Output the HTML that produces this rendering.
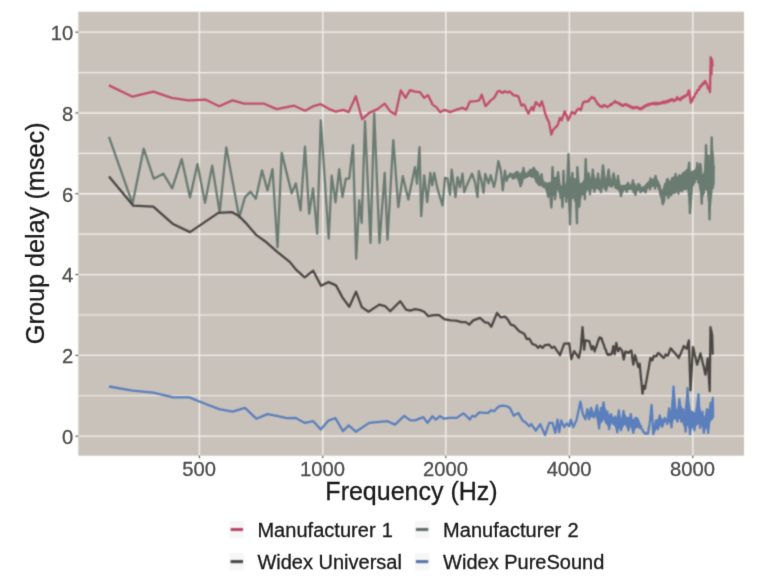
<!DOCTYPE html>
<html><head><meta charset="utf-8"><title>Group delay</title>
<style>html,body{margin:0;padding:0;background:#fff;}body{width:768px;height:576px;overflow:hidden;}svg{display:block;}text{font-family:"Liberation Sans",sans-serif;}</style>
</head><body>
<svg width="768" height="576" viewBox="0 0 768 576">
<defs><filter id="soft" x="0" y="0" width="768" height="576" filterUnits="userSpaceOnUse" color-interpolation-filters="sRGB"><feConvolveMatrix order="3" kernelMatrix="1 2 1 2 8 2 1 2 1" divisor="20" edgeMode="duplicate" preserveAlpha="true"/></filter><filter id="softt" x="0" y="0" width="768" height="576" filterUnits="userSpaceOnUse" color-interpolation-filters="sRGB"><feConvolveMatrix order="3" kernelMatrix="0 1 0 1 7 1 0 1 0" divisor="11" edgeMode="duplicate" preserveAlpha="false"/></filter></defs>
<g filter="url(#soft)">
<rect x="0" y="0" width="768" height="576" fill="#ffffff"/>
<rect x="78.3" y="11.7" width="665.7" height="444.0" fill="#c9c2bb"/>
<g stroke="#f3efeb" fill="none">
<line x1="78.3" x2="744.0" y1="436.15" y2="436.15" stroke-width="1.35"/>
<line x1="78.3" x2="744.0" y1="395.75" y2="395.75" stroke-width="1.15"/>
<line x1="78.3" x2="744.0" y1="355.35" y2="355.35" stroke-width="1.35"/>
<line x1="78.3" x2="744.0" y1="314.95" y2="314.95" stroke-width="1.15"/>
<line x1="78.3" x2="744.0" y1="274.55" y2="274.55" stroke-width="1.35"/>
<line x1="78.3" x2="744.0" y1="234.15" y2="234.15" stroke-width="1.15"/>
<line x1="78.3" x2="744.0" y1="193.75" y2="193.75" stroke-width="1.35"/>
<line x1="78.3" x2="744.0" y1="153.35" y2="153.35" stroke-width="1.15"/>
<line x1="78.3" x2="744.0" y1="112.95" y2="112.95" stroke-width="1.35"/>
<line x1="78.3" x2="744.0" y1="72.55" y2="72.55" stroke-width="1.15"/>
<line x1="78.3" x2="744.0" y1="32.15" y2="32.15" stroke-width="1.35"/>
<line x1="199.40" x2="199.40" y1="11.7" y2="455.7" stroke-width="1.35"/>
<line x1="322.80" x2="322.80" y1="11.7" y2="455.7" stroke-width="1.35"/>
<line x1="445.80" x2="445.80" y1="11.7" y2="455.7" stroke-width="1.35"/>
<line x1="569.40" x2="569.40" y1="11.7" y2="455.7" stroke-width="1.35"/>
<line x1="692.80" x2="692.80" y1="11.7" y2="455.7" stroke-width="1.35"/>
</g>
<g fill="none" stroke-width="2.30" stroke-linejoin="round" stroke-linecap="butt" transform="translate(0,0.40)">
<path stroke="#c24d68" d="M109.0 85.0 L132.5 96.3 L153.3 91.3 L171.7 97.5 L188.3 100.0 L205.8 99.3 L219.2 105.8 L232.5 100.0 L244.2 103.3 L264.2 103.3 L276.7 108.7 L294.2 105.3 L305.0 110.3 L313.3 105.8 L320.8 103.8 L329.2 108.7 L335.8 111.2 L343.3 109.5 L348.7 111.7 L355.8 95.8 L362.2 118.8 L369.2 112.5 L377.5 108.7 L384.7 103.3 L390.0 110.8 L395.5 114.2 L400.8 90.0 L405.5 97.5 L410.0 89.7 L415.0 91.3 L420.0 91.7 L424.2 97.5 L428.0 94.7 L432.5 104.2 L436.3 106.7 L440.0 111.7 L444.7 109.5 L450.0 111.7 L456.7 109.2 L462.5 107.5 L466.3 109.2 L469.7 101.3 L475.8 100.8 L479.2 100.0 L481.7 94.2 L485.5 105.8 L490.8 100.0 L494.2 97.5 L497.5 91.3 L500.0 90.5 L501.1 91.9 L502.3 92.0 L502.5 92.5 L503.4 92.2 L504.6 90.8 L505.0 90.8 L505.7 91.5 L506.9 91.5 L507.5 92.0 L508.0 92.1 L509.2 91.2 L510.0 91.3 L510.3 91.9 L511.5 92.5 L512.6 94.2 L513.3 94.7 L513.8 94.6 L514.9 95.3 L516.1 95.0 L517.2 95.8 L518.3 95.8 L518.4 95.9 L519.5 99.8 L520.7 102.9 L521.3 105.0 L521.8 105.2 L523.0 104.2 L524.1 104.4 L524.2 104.2 L525.3 106.3 L526.4 109.4 L527.6 111.5 L528.3 113.3 L528.7 112.6 L529.9 110.0 L531.0 108.3 L531.7 106.7 L532.2 107.5 L533.3 110.0 L533.3 110.0 L534.5 105.7 L535.6 102.5 L535.8 101.7 L536.8 102.5 L537.9 104.3 L539.1 104.9 L539.7 105.8 L540.2 104.9 L541.4 101.9 L542.0 100.8 L542.5 103.2 L543.7 106.9 L544.8 111.8 L545.8 115.0 L546.0 115.1 L547.1 118.2 L548.3 120.3 L549.2 122.5 L549.4 124.1 L550.6 130.1 L551.3 134.2 L551.7 133.3 L552.9 130.0 L553.3 129.2 L554.0 128.7 L555.2 127.1 L556.3 126.4 L557.5 124.8 L557.5 125.0 L558.6 121.8 L559.8 117.8 L560.0 117.5 L560.9 119.2 L561.7 120.0 L562.1 118.5 L563.2 115.5 L564.4 111.4 L564.7 110.8 L565.5 113.2 L566.7 115.5 L567.8 119.1 L568.3 120.0 L569.0 117.9 L570.1 115.9 L571.3 112.5 L571.7 111.7 L572.4 112.4 L573.6 112.3 L574.7 113.5 L575.0 113.3 L575.9 111.4 L577.0 109.7 L577.2 109.2 L578.2 108.5 L579.2 108.3 L579.3 108.9 L580.5 109.2 L580.8 109.7 L581.6 107.4 L582.8 102.8 L583.3 101.7 L583.9 102.1 L585.1 101.0 L586.2 101.5 L587.4 100.6 L588.3 100.8 L588.5 101.0 L589.7 98.7 L590.8 98.0 L591.3 97.0 L592.0 96.6 L593.1 97.8 L594.2 97.5 L594.3 97.4 L595.4 100.3 L596.6 101.4 L597.5 103.3 L597.7 103.9 L598.9 104.0 L600.0 105.9 L601.2 105.9 L601.7 106.7 L602.3 106.8 L603.5 104.8 L604.2 104.7 L604.6 105.4 L605.8 105.3 L606.9 106.7 L607.5 106.7 L608.1 105.9 L609.2 105.8 L610.4 103.9 L610.8 104.2 L611.5 104.4 L612.7 102.5 L613.8 102.5 L615.0 100.6 L615.0 101.3 L616.1 102.3 L617.3 101.7 L618.4 103.1 L619.2 103.0 L619.6 102.7 L620.7 104.7 L621.9 104.3 L622.5 105.3 L623.0 105.6 L624.2 104.1 L625.3 104.6 L625.8 103.7 L626.5 103.7 L627.6 105.4 L628.8 104.8 L629.9 106.7 L630.0 106.3 L631.1 106.0 L632.2 107.9 L633.3 107.5 L633.4 106.8 L634.5 107.9 L635.7 106.5 L636.7 106.7 L636.8 107.4 L638.0 106.9 L639.1 108.7 L640.3 107.9 L640.8 108.7 L641.4 108.9 L642.6 106.6 L643.7 107.4 L644.2 106.3 L644.9 105.1 L646.0 106.0 L647.2 104.1 L648.3 104.2 L648.3 105.0 L649.5 103.2 L650.6 104.2 L651.8 102.7 L652.9 103.6 L653.3 103.0 L654.1 102.4 L655.2 104.1 L656.4 102.3 L657.5 104.0 L658.3 103.3 L658.7 102.5 L659.8 103.5 L661.0 102.1 L662.1 102.9 L663.3 101.1 L663.3 102.0 L664.4 102.7 L665.6 100.8 L666.7 102.1 L667.9 100.0 L668.3 100.8 L669.0 101.3 L670.2 99.0 L671.3 100.3 L671.7 99.2 L672.5 98.7 L673.6 100.8 L674.8 99.5 L675.0 100.3 L675.9 99.5 L676.7 97.5 L677.1 96.7 L678.2 99.2 L679.4 98.2 L680.0 99.2 L680.5 99.8 L681.7 96.8 L682.8 97.6 L683.3 96.3 L684.0 95.5 L685.1 96.4 L686.3 94.5 L686.7 95.0 L687.4 94.4 L688.6 90.4 L689.2 90.0 L689.7 95.3 L690.8 102.5 L690.9 101.4 L692.0 101.0 L693.2 97.0 L693.3 97.5 L694.3 96.6 L695.5 92.8 L696.6 92.8 L696.7 91.7 L697.8 89.4 L698.9 89.5 L700.1 85.8 L700.8 85.8 L701.2 86.2 L702.4 83.0 L703.5 84.0 L704.7 80.8 L705.5 80.8 L705.8 82.5 L707.0 83.8 L708.1 88.2 L709.3 88.9 L710.0 91.7 L710.4 70.0 L710.7 56.7 L711.4 74.0 L711.6 68.1 L712.0 59.0 L712.6 66.0"/>
<path stroke="#6a7b72" d="M109.0 136.5 L132.5 203.3 L143.7 148.3 L153.7 178.3 L163.3 173.3 L172.2 188.0 L181.7 158.7 L190.0 197.0 L197.5 163.7 L205.0 202.5 L212.2 165.3 L219.7 212.0 L226.3 147.0 L239.2 217.0 L245.0 196.7 L250.5 191.2 L255.8 198.3 L262.0 170.0 L267.5 190.0 L272.5 168.7 L277.5 246.7 L281.7 152.5 L291.7 193.0 L295.8 183.0 L300.5 210.0 L305.0 146.3 L309.2 213.3 L313.0 188.0 L317.2 233.3 L320.8 120.0 L328.7 238.3 L331.7 175.3 L335.5 202.0 L339.2 168.7 L342.5 196.7 L345.8 178.3 L349.2 178.3 L353.0 144.7 L356.2 258.3 L359.2 200.0 L361.7 222.5 L365.0 120.8 L370.5 242.5 L374.2 113.0 L379.5 242.5 L384.7 172.5 L387.5 239.2 L393.3 139.7 L398.3 206.7 L402.8 175.8 L408.3 199.2 L415.0 166.7 L417.0 183.3 L419.5 146.7 L421.2 215.8 L424.2 175.0 L427.2 201.7 L430.3 172.5 L432.2 185.0 L434.2 172.5 L437.5 188.3 L442.5 205.0 L445.0 177.5 L447.5 178.3 L450.0 194.2 L451.7 169.2 L455.5 196.7 L457.5 176.7 L460.0 186.7 L462.5 173.3 L464.2 191.7 L467.5 183.3 L472.0 173.3 L475.0 181.7 L477.5 196.7 L478.8 170.8 L481.7 181.7 L483.6 192.3 L485.2 173.4 L488.5 183.0 L490.7 174.8 L494.0 186.5 L495.6 179.5 L498.4 160.8 L500.6 169.5 L501.5 176.0 L502.8 189.9 L504.9 170.2 L506.6 180.6 L507.5 177.5"/>
<path stroke="#6a7b72" fill="#6a7b72" stroke-width="1.6" d="M507.5 176.5 L510.0 173.4 L513.1 173.8 L516.9 172.6 L520.6 174.2 L523.5 169.0 L526.3 174.6 L530.0 169.6 L533.8 168.8 L537.5 171.4 L540.0 178.6 L541.5 175.3 L543.0 181.9 L545.0 183.1 L548.1 183.7 L549.8 182.2 L551.3 184.0 L552.5 170.5 L552.8 172.7 L553.8 181.3 L555.0 180.3 L556.5 182.4 L556.8 180.7 L558.1 174.3 L559.5 183.8 L560.6 185.5 L561.5 186.4 L562.5 190.0 L563.5 174.0 L563.8 176.3 L564.8 185.8 L566.3 186.0 L567.5 181.3 L567.8 174.4 L568.5 160.2 L569.6 182.5 L570.0 184.1 L571.3 183.0 L572.5 175.8 L573.8 182.7 L575.0 181.5 L576.0 182.6 L576.2 183.7 L577.0 177.5 L577.3 173.2 L578.2 180.0 L578.6 184.5 L579.3 185.4 L581.8 184.0 L584.5 179.9 L584.9 174.6 L585.7 163.6 L587.2 178.1 L587.4 177.6 L588.6 175.5 L589.9 179.9 L590.5 181.5 L591.8 175.7 L592.8 171.9 L594.3 177.3 L595.5 181.3 L596.8 178.0 L598.0 175.3 L600.5 184.7 L601.0 181.5 L603.0 167.9 L606.1 183.5 L608.6 171.5 L609.3 174.9 L611.1 184.0 L611.8 181.5 L613.6 174.7 L614.3 177.7 L615.5 183.2 L616.8 180.4 L618.0 177.5 L619.3 182.3 L620.5 187.2 L621.0 187.3 L624.3 185.5 L626.8 184.3 L628.0 183.5 L630.5 186.4 L633.0 181.4 L635.5 187.3 L638.0 184.8 L638.6 184.5 L640.5 186.7 L641.8 188.0 L643.0 186.9 L645.5 185.2 L646.0 184.6 L648.0 183.0 L650.0 180.3 L650.5 179.4 L653.0 179.5 L655.0 177.8 L655.5 177.2 L658.0 181.4 L659.3 184.7 L660.0 186.8 L661.8 192.0 L662.8 190.1 L664.3 186.2 L665.5 183.2 L667.8 181.1 L668.3 181.4 L670.0 181.8 L671.0 179.9 L672.2 177.8 L673.9 176.9 L675.6 176.2 L679.0 177.6 L682.6 173.6 L684.3 173.1 L686.0 172.7 L687.8 168.8 L689.2 167.8 L689.9 171.0 L691.3 173.6 L692.1 172.7 L694.7 172.5 L696.5 167.1 L697.3 165.1 L698.8 170.2 L699.0 169.7 L700.3 167.4 L701.7 174.6 L702.5 177.6 L704.3 174.3 L704.5 173.9 L706.0 150.4 L706.9 159.3 L707.4 165.2 L708.6 162.0 L709.5 168.9 L710.2 172.2 L711.7 145.0 L712.1 147.8 L713.2 156.2 L713.8 167.0 L713.8 184.5 L713.2 185.0 L712.1 187.5 L711.7 190.3 L710.2 206.3 L709.5 211.3 L708.6 200.6 L707.4 188.1 L706.9 181.8 L706.0 182.6 L704.5 189.5 L704.3 190.0 L702.5 196.7 L701.7 198.9 L700.3 189.4 L699.0 182.0 L698.8 181.7 L697.3 178.5 L696.5 177.5 L694.7 181.8 L692.1 186.8 L691.3 194.2 L689.9 206.5 L689.2 199.5 L687.8 186.7 L686.0 187.8 L684.3 188.4 L682.6 189.1 L679.0 190.9 L675.6 191.3 L673.9 191.7 L672.2 192.3 L671.0 193.0 L670.0 194.0 L668.3 195.2 L667.8 194.9 L665.5 194.3 L664.3 197.6 L662.8 201.8 L661.8 199.2 L660.0 193.4 L659.3 190.1 L658.0 184.3 L655.5 186.1 L655.0 186.6 L653.0 184.3 L650.5 186.9 L650.0 187.5 L648.0 185.8 L646.0 189.9 L645.5 190.9 L643.0 189.6 L641.8 190.5 L640.5 191.1 L638.6 188.8 L638.0 188.2 L635.5 193.3 L633.0 189.6 L630.5 187.4 L628.0 189.1 L626.8 190.3 L624.3 188.3 L621.0 194.4 L620.5 193.0 L619.3 188.9 L618.0 188.2 L616.8 188.6 L615.5 186.9 L614.3 184.0 L613.6 183.8 L611.8 185.6 L611.1 185.7 L609.3 183.6 L608.6 184.0 L606.1 189.1 L603.0 184.7 L601.0 190.3 L600.5 190.4 L598.0 187.5 L596.8 187.2 L595.5 188.8 L594.3 189.2 L592.8 186.5 L591.8 185.8 L590.5 190.3 L589.9 191.7 L588.6 189.4 L587.4 188.2 L587.2 188.9 L585.7 191.2 L584.9 195.2 L584.5 195.4 L581.8 192.3 L579.3 203.2 L578.6 197.9 L578.2 194.3 L577.3 209.9 L577.0 216.0 L576.2 197.9 L576.0 193.0 L575.0 197.3 L573.8 191.3 L572.5 194.3 L571.3 193.0 L570.0 217.9 L569.6 213.0 L568.5 196.9 L567.8 190.9 L567.5 193.2 L566.3 199.0 L564.8 195.2 L563.8 191.2 L563.5 193.4 L562.5 204.4 L561.5 191.9 L560.6 195.8 L559.5 193.0 L558.1 188.2 L556.8 187.6 L556.5 189.3 L555.0 196.0 L553.8 193.4 L552.8 189.8 L552.5 191.9 L551.3 203.5 L549.8 187.8 L548.1 194.4 L545.0 186.3 L543.0 185.9 L541.5 184.7 L540.0 185.2 L537.5 183.0 L533.8 176.3 L530.0 174.8 L526.3 176.6 L523.5 177.3 L520.6 184.0 L516.9 176.8 L513.1 177.5 L510.0 174.8 L507.5 178.5 Z"/>
<path stroke="#6a7b72" stroke-width="2.4" d="M507.5 176.3 L508.9 176.5 L510.2 173.3 L511.6 176.2 L513.1 178.2 L514.2 177.3 L515.5 172.4 L516.9 171.8 L518.1 172.1 L519.4 181.1 L520.6 185.7 L521.9 181.8 L523.5 167.5 L524.4 177.7 L525.7 173.8 L526.9 176.4 L528.1 172.4 L529.3 175.3 L530.5 169.6 L531.7 176.3 L532.9 169.1 L533.8 167.5 L535.3 170.6 L536.4 181.3 L537.6 172.1 L538.7 183.9 L539.9 177.3 L541.0 184.4 L541.5 173.7 L542.1 178.2 L543.3 186.3 L544.4 182.1 L545.5 187.2 L546.6 183.1 L548.1 196.3 L548.8 183.4 L549.8 187.8 L551.3 206.9 L552.0 196.1 L552.5 166.8 L553.0 176.4 L554.1 194.8 L555.0 177.5 L555.0 198.8 L556.2 190.1 L557.2 178.1 L558.1 171.8 L559.3 183.3 L560.6 197.6 L561.3 186.8 L562.5 206.9 L563.5 170.6 L564.3 195.0 L565.3 184.5 L566.3 201.3 L567.3 180.9 L568.5 153.7 L569.2 178.2 L570.0 223.8 L571.1 182.5 L572.5 172.5 L572.5 197.6 L573.0 178.7 L574.0 193.0 L575.0 178.7 L575.0 200.1 L575.8 194.0 L577.0 222.8 L577.3 166.8 L578.6 183.7 L579.3 206.3 L580.4 183.8 L581.3 194.4 L582.2 183.3 L583.1 192.8 L584.0 181.0 L584.9 198.8 L585.7 158.7 L586.7 188.0 L587.6 178.1 L588.6 173.1 L589.4 179.8 L589.9 193.8 L591.2 178.5 L592.1 187.5 L592.8 169.3 L594.3 191.3 L594.8 179.9 L595.7 187.6 L596.6 179.3 L597.5 187.5 L598.0 173.1 L599.3 188.7 L600.2 183.0 L601.0 191.8 L602.0 175.4 L603.0 165.0 L603.8 172.0 L604.7 188.1 L605.6 180.0 L606.1 190.1 L607.4 177.8 L608.6 169.3 L609.2 175.6 L610.1 185.4 L611.0 183.8 L611.8 186.3 L612.8 177.2 L613.6 173.1 L614.6 178.5 L615.5 187.2 L616.4 181.5 L617.3 187.7 L618.0 175.6 L619.1 190.0 L620.0 185.3 L621.0 195.7 L621.8 185.9 L622.7 191.0 L623.6 185.6 L624.5 188.2 L625.4 185.5 L626.3 190.0 L626.8 191.3 L628.0 182.5 L629.0 185.1 L629.9 188.0 L630.8 185.4 L631.7 188.5 L633.0 180.0 L633.5 191.7 L634.4 184.0 L635.5 194.4 L636.2 186.2 L637.1 190.0 L638.0 184.3 L638.6 183.7 L639.8 185.2 L640.5 191.9 L641.6 188.0 L642.5 190.2 L643.4 186.9 L644.3 189.9 L645.5 191.9 L646.1 189.9 L647.0 183.6 L647.9 186.0 L648.8 181.9 L650.0 188.8 L650.5 178.1 L651.5 185.8 L652.4 179.5 L653.3 184.6 L654.2 179.2 L655.0 188.2 L655.5 175.6 L656.0 177.9 L656.9 185.3 L657.8 181.3 L658.7 188.1 L659.6 185.2 L660.5 194.3 L661.4 190.8 L662.3 200.7 L662.8 203.8 L664.1 200.1 L665.0 183.8 L665.9 194.5 L666.8 179.8 L667.8 178.7 L668.3 197.6 L669.5 194.2 L670.4 181.2 L671.3 194.9 L672.2 177.9 L673.1 192.5 L674.0 177.3 L674.9 192.5 L675.6 173.5 L676.7 190.7 L677.6 177.6 L678.5 193.3 L679.4 174.9 L680.3 189.9 L681.2 176.7 L682.1 190.9 L683.0 172.9 L683.9 188.6 L684.8 171.8 L685.7 188.9 L686.6 170.0 L687.5 188.0 L688.4 168.3 L689.2 162.2 L689.9 212.7 L691.1 197.6 L692.0 171.8 L692.9 184.5 L693.8 170.8 L694.7 181.7 L695.6 170.1 L696.5 178.4 L697.3 162.7 L698.3 182.0 L699.2 170.2 L700.3 163.5 L701.0 168.8 L701.7 203.2 L702.8 174.8 L703.7 192.9 L704.6 172.4 L705.5 188.7 L706.0 144.8 L707.3 189.1 L708.6 155.2 L709.5 218.8 L710.0 168.6 L710.9 195.6 L711.7 137.0 L712.7 187.6 L713.6 165.6"/>
<path stroke="#4a4743" d="M109.0 176.0 L133.3 205.3 L153.3 206.3 L172.5 223.3 L190.0 231.7 L218.3 212.5 L231.7 211.7 L239.2 215.8 L245.0 221.7 L255.8 234.2 L265.0 240.8 L277.5 251.7 L290.0 261.7 L296.0 269.2 L304.7 277.0 L313.2 270.3 L321.0 285.3 L328.5 281.7 L336.0 285.0 L342.7 297.5 L349.3 306.3 L356.0 291.3 L361.8 306.7 L368.5 311.3 L379.3 304.2 L385.2 305.8 L390.2 310.8 L400.2 300.8 L406.0 309.2 L410.2 310.3 L415.2 308.7 L420.2 309.7 L424.2 311.3 L428.3 315.8 L433.3 314.7 L439.2 314.7 L444.2 318.7 L450.8 320.0 L455.8 320.3 L461.7 321.7 L465.8 321.7 L469.2 324.2 L473.3 320.0 L480.0 317.5 L485.0 322.0 L488.3 322.5 L491.3 326.3 L497.0 312.5 L500.8 317.0 L505.0 316.3 L507.5 318.7 L510.8 324.2 L514.2 325.3 L519.2 330.8 L524.2 333.3 L526.7 338.7 L529.2 338.3 L532.5 343.8 L535.8 344.7 L538.0 347.5 L540.0 345.3 L542.5 347.5 L545.0 344.7 L549.2 344.2 L551.7 347.5 L554.2 346.3 L560.0 354.7 L564.2 343.3 L569.2 343.0 L571.3 358.7 L574.2 350.8 L578.8 357.5 L580.8 348.3 L582.5 326.7 L584.2 349.2 L585.3 340.0 L589.2 340.8 L591.7 348.9 L592.7 346.9 L593.0 345.8 L593.7 347.4 L594.7 351.1 L594.7 350.8 L595.7 347.6 L596.7 345.4 L596.7 345.0 L597.7 341.7 L598.7 339.3 L599.2 337.5 L599.7 337.1 L600.7 337.9 L601.3 337.5 L601.7 338.4 L602.7 341.8 L603.7 344.1 L604.2 345.8 L604.7 347.5 L605.7 349.2 L606.7 352.4 L607.5 354.2 L607.7 353.7 L608.7 354.5 L609.7 353.6 L610.7 354.2 L611.7 353.4 L611.7 353.7 L612.7 349.0 L613.3 345.8 L613.7 347.7 L614.7 353.9 L614.7 353.7 L615.7 346.4 L616.3 342.5 L616.7 344.7 L617.7 349.1 L618.0 350.8 L618.7 350.0 L619.7 347.7 L620.0 347.5 L620.7 349.0 L621.7 349.7 L622.2 350.8 L622.7 354.0 L623.7 358.9 L623.7 359.2 L624.7 354.6 L625.3 351.3 L625.7 351.1 L626.7 352.1 L627.7 351.8 L628.3 352.5 L628.7 352.6 L629.7 350.9 L630.7 350.9 L631.3 350.0 L631.7 352.5 L632.7 360.2 L633.3 364.2 L633.7 361.7 L634.7 356.6 L635.0 354.7 L635.7 356.8 L636.7 361.2 L637.7 364.1 L638.3 366.7 L638.7 366.2 L639.7 363.3 L639.7 363.7 L640.7 374.7 L641.7 384.6 L642.5 393.3 L642.7 392.3 L643.7 385.4 L643.7 385.8 L644.7 388.1 L645.0 388.3 L645.7 383.9 L646.7 379.0 L647.5 374.2 L647.7 372.8 L648.7 367.9 L649.7 361.6 L650.5 357.5 L650.7 358.1 L651.7 359.0 L652.2 360.0 L652.7 359.0 L653.7 355.6 L653.8 355.8 L654.7 356.2 L655.7 355.5 L656.3 355.8 L656.7 355.4 L657.7 353.2 L658.3 352.5 L658.7 353.1 L659.7 353.4 L660.7 355.0 L661.3 355.3 L661.7 355.3 L662.7 356.9 L663.7 357.1 L663.8 357.5 L664.7 356.1 L665.5 354.2 L665.7 354.0 L666.7 355.0 L667.7 354.7 L668.0 355.0 L668.7 353.4 L669.7 350.0 L670.5 348.0 L670.7 348.5 L671.7 348.8 L672.7 350.7 L673.7 351.1 L674.7 352.9 L675.5 353.3 L675.7 353.3 L676.7 355.1 L677.7 355.7 L678.7 357.7 L678.8 357.5 L679.7 355.1 L680.7 353.5 L681.7 350.4 L682.7 348.7 L683.7 345.6 L683.8 345.8 L684.7 346.9 L685.7 347.1 L686.7 348.5 L686.7 348.3 L687.7 344.1 L688.7 340.8 L688.8 340.0 L689.7 366.2 L690.5 390.0 L690.7 386.9 L691.7 368.9 L692.7 352.2 L693.0 346.7 L693.7 349.2 L694.7 354.1 L695.7 357.6 L696.7 362.5 L697.2 364.2 L697.7 362.2 L698.7 359.4 L699.7 355.3 L700.5 353.0 L700.7 354.3 L701.7 357.8 L702.7 362.6 L703.7 366.2 L704.7 371.2 L705.5 374.2 L705.7 372.5 L706.7 366.0 L707.7 357.9 L707.7 358.3 L708.7 374.9 L709.7 390.5 L709.7 390.8 L710.5 326.7 L710.7 327.9 L711.7 332.3 L712.2 335.0 L712.7 354.2"/>
<path stroke="#5a7fbc" d="M109.0 386.1 L132.5 390.3 L153.3 392.2 L173.3 397.0 L189.2 397.0 L205.0 403.3 L219.2 408.7 L232.5 411.3 L245.0 407.5 L256.3 418.3 L267.5 413.7 L276.7 415.5 L286.7 417.8 L295.8 417.5 L305.0 422.5 L313.3 420.8 L320.8 429.2 L328.3 420.3 L335.5 417.8 L343.0 430.8 L348.7 425.0 L355.8 431.3 L369.2 422.5 L387.5 420.8 L395.0 424.2 L404.2 415.5 L410.0 419.7 L415.0 420.0 L423.3 416.7 L427.5 422.5 L432.5 415.8 L435.8 419.2 L440.0 415.8 L444.2 418.3 L449.2 417.5 L456.7 417.5 L463.3 413.0 L466.7 415.8 L469.7 419.2 L472.5 415.3 L475.0 416.3 L479.2 412.0 L484.2 412.5 L488.3 412.5 L490.8 410.0 L494.2 410.8 L498.3 406.3 L502.5 405.3 L506.7 405.8 L510.0 407.5 L513.7 415.3 L518.3 412.5 L522.5 420.0 L525.8 422.0 L529.2 425.8 L531.3 423.7 L535.8 430.3 L540.3 423.7 L545.0 434.7 L549.2 422.5 L552.5 422.5 L555.3 432.5 L557.5 419.2 L559.2 431.7 L561.2 420.0 L564.2 426.7 L566.7 423.0 L569.2 425.8 L570.8 419.2 L573.3 426.7 L576.7 419.2 L580.4 401.3 L582.9 413.8 L585.4 418.8 L587.3 408.8 L589.1 418.8 L591.0 407.5 L594.1 416.9 L597.0 405.0 L599.1 428.1 L601.0 407.5 L601.6 421.3 L603.5 401.9 L606.0 422.5 L607.3 411.3 L609.1 428.8 L611.0 413.8 L613.5 423.8 L614.8 416.3 L617.3 431.9 L618.8 410.0 L621.0 430.0 L623.5 410.6 L625.4 423.8 L627.3 417.5 L628.3 430.0 L630.8 413.8 L633.3 432.5 L635.4 417.5 L637.3 418.1 L641.0 427.5 L644.8 433.1 L647.9 433.1 L649.8 422.5 L651.6 404.4 L653.3 433.8 L656.0 420.0 L657.9 428.8 L659.8 415.0 L662.3 426.3 L664.8 417.5 L667.3 423.8 L669.1 408.1 L671.5 427.0 L673.5 386.3 L675.6 416.3 L677.5 421.3 L679.4 398.8 L681.3 421.3 L683.1 408.8 L685.6 431.3 L687.5 387.5 L690.0 433.8 L692.5 411.3 L694.4 430.0 L696.5 411.0 L698.5 393.8 L700.0 427.5 L702.5 411.3 L703.8 432.5 L706.9 408.8 L708.1 432.5 L710.6 402.5 L711.9 418.8 L712.8 397.5 L713.0 417.5"/>
<path stroke="#5a7fbc" fill="#5a7fbc" stroke-width="1.4" d="M590.0 410.0 L591.7 409.3 L593.8 417.0 L595.8 410.8 L597.1 407.4 L598.8 412.9 L599.2 414.1 L601.7 407.9 L603.3 404.6 L605.0 408.4 L606.7 412.4 L608.8 414.6 L610.0 415.4 L611.7 416.5 L612.5 417.3 L614.2 419.9 L615.0 421.3 L617.5 415.7 L618.8 412.3 L620.4 419.8 L620.8 421.6 L622.0 418.1 L623.8 412.6 L625.0 414.8 L626.7 418.6 L628.3 418.0 L630.4 416.4 L630.8 416.9 L632.5 419.7 L632.9 419.7 L635.0 418.9 L636.7 420.1 L638.3 421.6 L640.0 424.2 L641.7 426.1 L641.7 426.1 L640.0 427.7 L638.3 427.0 L636.7 426.5 L635.0 428.1 L632.9 430.3 L632.5 429.4 L630.8 425.3 L630.4 425.7 L628.3 428.4 L626.7 426.0 L625.0 422.8 L623.8 424.3 L622.0 427.6 L620.8 427.6 L620.4 427.1 L618.8 427.7 L617.5 429.4 L615.0 425.3 L614.2 423.5 L612.5 422.2 L611.7 421.7 L610.0 424.4 L608.8 426.4 L606.7 423.0 L605.0 419.8 L603.3 418.6 L601.7 418.4 L599.2 424.7 L598.8 425.5 L597.1 418.3 L595.8 413.6 L593.8 417.0 L591.7 416.0 L590.0 416.5 Z"/>
<path stroke="#5a7fbc" fill="#5a7fbc" stroke-width="1.4" d="M654.0 427.7 L656.6 421.6 L659.2 417.0 L659.7 416.0 L662.3 420.0 L664.4 418.1 L665.5 419.6 L667.0 421.5 L668.0 416.1 L669.1 410.0 L671.2 412.2 L672.2 402.2 L673.3 390.8 L674.8 403.4 L675.4 408.7 L677.4 409.7 L679.0 404.5 L679.8 401.9 L682.1 410.6 L684.7 414.5 L685.3 409.8 L687.3 393.2 L689.4 405.6 L689.9 408.0 L691.0 412.9 L692.5 412.9 L693.4 413.0 L695.1 412.6 L695.7 412.5 L698.3 398.5 L698.8 401.8 L700.4 412.1 L700.9 412.4 L702.4 414.3 L704.0 416.5 L705.0 417.4 L706.1 414.3 L707.1 411.8 L708.2 410.4 L709.7 407.6 L710.8 404.3 L712.1 400.8 L712.9 405.4 L713.4 408.4 L713.4 415.6 L712.9 415.7 L712.1 416.1 L710.8 418.3 L709.7 422.5 L708.2 428.1 L707.1 427.3 L706.1 426.8 L705.0 428.6 L704.0 429.8 L702.4 425.8 L700.9 422.1 L700.4 422.6 L698.8 422.9 L698.3 422.6 L695.7 425.5 L695.1 425.7 L693.4 426.3 L692.5 426.6 L691.0 428.7 L689.9 429.6 L689.4 428.4 L687.3 423.1 L685.3 428.0 L684.7 427.0 L682.1 419.2 L679.8 418.0 L679.0 418.3 L677.4 418.7 L675.4 418.1 L674.8 417.2 L673.3 418.9 L672.2 422.9 L671.2 423.3 L669.1 421.0 L668.0 420.8 L667.0 421.5 L665.5 420.4 L664.4 420.8 L662.3 422.3 L659.7 425.5 L659.2 426.3 L656.6 427.0 L654.0 432.3 Z"/>
</g>
<g stroke="#333333" stroke-width="1">
<line x1="75.4" x2="78.3" y1="436.15" y2="436.15"/>
<line x1="75.4" x2="78.3" y1="355.35" y2="355.35"/>
<line x1="75.4" x2="78.3" y1="274.55" y2="274.55"/>
<line x1="75.4" x2="78.3" y1="193.75" y2="193.75"/>
<line x1="75.4" x2="78.3" y1="112.95" y2="112.95"/>
<line x1="75.4" x2="78.3" y1="32.15" y2="32.15"/>
<line x1="199.40" x2="199.40" y1="455.7" y2="458.2"/>
<line x1="322.80" x2="322.80" y1="455.7" y2="458.2"/>
<line x1="445.80" x2="445.80" y1="455.7" y2="458.2"/>
<line x1="569.40" x2="569.40" y1="455.7" y2="458.2"/>
<line x1="692.80" x2="692.80" y1="455.7" y2="458.2"/>
</g>
<rect x="229.6" y="520.9" width="14.4" height="17.3" fill="#f6f6f6"/>
<line x1="230.6" x2="243.0" y1="529.5" y2="529.5" stroke="#b94b69" stroke-width="3.1"/>
<rect x="229.6" y="553.0" width="14.4" height="17.3" fill="#f6f6f6"/>
<line x1="230.6" x2="243.0" y1="561.6" y2="561.6" stroke="#4b4a47" stroke-width="3.1"/>
<rect x="414.9" y="520.9" width="14.4" height="17.3" fill="#f6f6f6"/>
<line x1="415.9" x2="428.3" y1="529.5" y2="529.5" stroke="#667269" stroke-width="3.1"/>
<rect x="414.9" y="553.0" width="14.4" height="17.3" fill="#f6f6f6"/>
<line x1="415.9" x2="428.3" y1="561.6" y2="561.6" stroke="#5976aa" stroke-width="3.1"/>
</g>
<g filter="url(#softt)">
<g fill="#4d4d4d" stroke="#4d4d4d" stroke-width="0.3" font-size="20.2">
<text x="73.3" y="444.0" text-anchor="end">0</text>
<text x="73.3" y="363.2" text-anchor="end">2</text>
<text x="73.3" y="282.4" text-anchor="end">4</text>
<text x="73.3" y="201.7" text-anchor="end">6</text>
<text x="73.3" y="120.8" text-anchor="end">8</text>
<text x="73.3" y="40.0" text-anchor="end">10</text>
<text x="199.1" y="475.6" text-anchor="middle">500</text>
<text x="322.5" y="475.6" text-anchor="middle">1000</text>
<text x="445.5" y="475.6" text-anchor="middle">2000</text>
<text x="569.1" y="475.6" text-anchor="middle">4000</text>
<text x="692.5" y="475.6" text-anchor="middle">8000</text>
</g>
<text x="411.5" y="500.4" font-size="25" text-anchor="middle" fill="#1a1a1a" stroke="#1a1a1a" stroke-width="0.3">Frequency (Hz)</text>
<text transform="translate(43.5,233.3) rotate(-90)" font-size="25.25" text-anchor="middle" fill="#1a1a1a" stroke="#1a1a1a" stroke-width="0.3">Group delay (msec)</text>
<g fill="#1a1a1a" stroke="#1a1a1a" stroke-width="0.3" font-size="20">
<text x="257.4" y="536.9" word-spacing="0.7" letter-spacing="0.03">Manufacturer 1</text>
<text x="257.4" y="568.8">Widex Universal</text>
<text x="443.1" y="536.9" word-spacing="0.7" letter-spacing="0.03">Manufacturer 2</text>
<text x="443.1" y="568.8">Widex PureSound</text>
</g>
</g>
</svg></body></html>
